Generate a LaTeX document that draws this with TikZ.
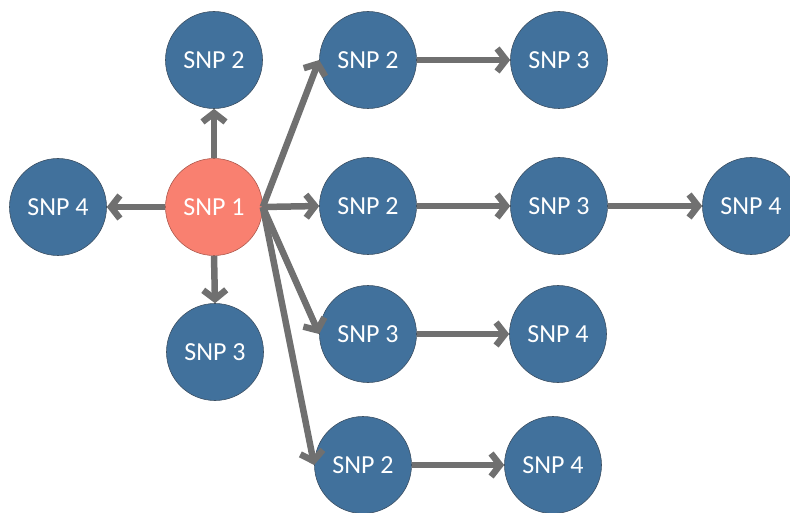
\documentclass[tikz,border=0pt]{standalone}
\usepackage{fontspec}
\setmainfont{Carlito}
\usetikzlibrary{arrows.meta}
\definecolor{snpblue}{RGB}{65,113,156}
\definecolor{snpedge}{RGB}{60,80,100}
\definecolor{snpsalmon}{RGB}{249,128,112}
\definecolor{linkgray}{RGB}{112,112,112}
\tikzset{
  snp/.style={circle, minimum size=97pt, inner sep=0pt, fill=snpblue,
    draw=snpedge, line width=0.6pt, text=white,
    font=\fontsize{26}{29}\selectfont},
  root/.style={snp, fill=snpsalmon, draw=snpsalmon!70!black},
  link/.style={draw=linkgray, line width=6.5pt,
    -{Straight Barb[length=9pt,width=23pt]}}
}
\begin{document}
\begin{tikzpicture}[x=1pt,y=-1pt]
\useasboundingbox (0,0) rectangle (790,513);
% central node and its direct neighbours
\node[root] (s1) at (214,207) {SNP 1};
\node[snp] (up2) at (214,60) {SNP 2};
\node[snp] (lf4) at (58,207) {SNP 4};
\node[snp] (dn3) at (215,352) {SNP 3};
% chains to the right
\node[snp] (a2) at (368,60) {SNP 2};
\node[snp] (a3) at (559,60) {SNP 3};
\node[snp] (b2) at (368,206) {SNP 2};
\node[snp] (b3) at (559,206) {SNP 3};
\node[snp] (b4) at (751,206) {SNP 4};
\node[snp] (c3) at (368,334) {SNP 3};
\node[snp] (c4) at (558,334) {SNP 4};
\node[snp] (d2) at (363,465) {SNP 2};
\node[snp] (d4) at (553,465) {SNP 4};
% links from the centre
\draw[link] (s1.north) -- (up2.south);
\draw[link] (s1.west) -- (lf4.east);
\draw[link] (s1.south) -- (dn3.north);
\draw[link] (s1.east) -- (a2.west);
\draw[link] (s1.east) -- (b2.west);
\draw[link] (s1.east) -- (c3.west);
\draw[link] (s1.east) -- (d2.west);
% links along each chain
\draw[link] (a2.east) -- (a3.west);
\draw[link] (b2.east) -- (b3.west);
\draw[link] (b3.east) -- (b4.west);
\draw[link] (c3.east) -- (c4.west);
\draw[link] (d2.east) -- (d4.west);
\end{tikzpicture}
\end{document}
